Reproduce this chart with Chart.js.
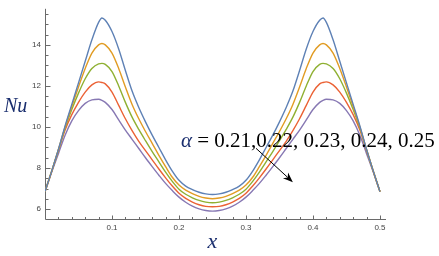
<!DOCTYPE html>
<html><head><meta charset="utf-8">
<script src="https://cdn.jsdelivr.net/npm/chart.js@4"></script>
<style>html,body{margin:0;padding:0;background:#fff;}#wrap{width:439px;height:256px;}</style>
</head><body><div id="wrap"><canvas id="c" width="439" height="256"></canvas></div>
<script>
const xValues = [0,0.01,0.02,0.03,0.04,0.05,0.06,0.07,0.08,0.085,0.09,0.1,0.11,0.12,0.13,0.14,0.15,0.16,0.17,0.18,0.19,0.2,0.21,0.22,0.23,0.24,0.25,0.26,0.27,0.28,0.29,0.3,0.31,0.32,0.33,0.34,0.35,0.36,0.37,0.38,0.39,0.4,0.41,0.415,0.42,0.43,0.44,0.45,0.46,0.47,0.48,0.49,0.5];
const nuAlpha021 = [6.85,7.85,8.9,10.05,11.1,12.15,13.2,14.25,15.1,15.31,15.2,14.65,13.8,12.75,11.75,10.95,10.25,9.6,9.0,8.4,7.85,7.4,7.12,6.95,6.82,6.74,6.71,
  6.74,6.82,6.95,7.12,7.4,7.85,8.4,9.0,9.6,10.25,10.95,11.75,12.75,13.8,14.65,15.2,15.31,15.1,14.25,13.2,12.15,11.1,10.05,8.9,7.85,6.85];
const nuAlpha022 = [6.85,7.85,8.9,10.0,11.0,11.95,12.85,13.6,14.0,14.07,14.0,13.6,12.85,11.95,11.1,10.4,9.78,9.2,8.62,8.07,7.55,7.17,6.92,6.75,6.62,6.54,6.5,
  6.54,6.62,6.75,6.92,7.17,7.55,8.07,8.62,9.2,9.78,10.4,11.1,11.95,12.85,13.6,14.0,14.07,14.0,13.6,12.85,11.95,11.0,10.0,8.9,7.85,6.85];
const nuAlpha023 = [6.85,7.85,8.88,9.95,10.85,11.65,12.35,12.85,13.08,13.1,13.05,12.7,12.0,11.2,10.48,9.88,9.33,8.8,8.3,7.8,7.35,6.97,6.72,6.55,6.42,6.34,6.31,
  6.34,6.42,6.55,6.72,6.97,7.35,7.8,8.3,8.8,9.33,9.88,10.48,11.2,12.0,12.7,13.05,13.1,13.08,12.85,12.35,11.65,10.85,9.95,8.88,7.85,6.85];
const nuAlpha024 = [6.85,7.83,8.85,9.85,10.6,11.2,11.7,12.05,12.2,12.17,12.1,11.7,11.05,10.4,9.82,9.3,8.85,8.4,7.95,7.52,7.12,6.77,6.52,6.34,6.21,6.13,6.11,
  6.13,6.21,6.34,6.52,6.77,7.12,7.52,7.95,8.4,8.85,9.3,9.82,10.4,11.05,11.7,12.1,12.17,12.2,12.05,11.7,11.2,10.6,9.85,8.85,7.83,6.85];
const nuAlpha025 = [6.85,7.8,8.7,9.6,10.3,10.8,11.15,11.32,11.35,11.3,11.2,10.85,10.35,9.85,9.4,8.95,8.5,8.07,7.65,7.25,6.9,6.58,6.33,6.14,6.01,5.93,5.9,
  5.93,6.01,6.14,6.33,6.58,6.9,7.25,7.65,8.07,8.5,8.95,9.4,9.85,10.35,10.85,11.2,11.3,11.35,11.32,11.15,10.8,10.3,9.6,8.7,7.8,6.85];
const seriesNames = ['α = 0.21','α = 0.22','α = 0.23','α = 0.24','α = 0.25'];
const seriesColors = ['#5E81B5','#E19C24','#8FB032','#EB6235','#8778B3'];
const yTickValues = [6,8,10,12,14];
const xTickValues = [0.1,0.2,0.3,0.4,0.5];
const annotationText = ' = 0.21,0.22, 0.23, 0.24, 0.25';

const allSeries = [nuAlpha021,nuAlpha022,nuAlpha023,nuAlpha024,nuAlpha025];
const datasets = allSeries.map((arr,i)=>({
  label: seriesNames[i],
  data: arr.map((v,j)=>({x:xValues[j], y:v})),
  borderColor: seriesColors[i],
  borderWidth: 1.4,
  pointRadius: 0,
  fill: false,
  cubicInterpolationMode: 'monotone'
}));

const Y_MIN = 5.515, Y_MAX = 15.76, X_MIN = 0, X_MAX = 0.509;

const decor = {
  id: 'decor',
  beforeDatasetsDraw(chart){
    const ctx = chart.ctx, xs = chart.scales.x, ys = chart.scales.y;
    const x0 = Math.round(xs.getPixelForValue(0)) + 0.5;
    const yb = Math.round(ys.getPixelForValue(Y_MIN)) + 0.5;
    const xr = xs.getPixelForValue(X_MAX);
    const yt = ys.getPixelForValue(Y_MAX);
    ctx.save();
    ctx.strokeStyle = '#6a6a6a';
    ctx.lineWidth = 1;
    ctx.beginPath();
    ctx.moveTo(x0, yb); ctx.lineTo(xr, yb);
    ctx.moveTo(x0, yb); ctx.lineTo(x0, yt);
    for (let i = 1; i <= 25; i++) {
      const px = Math.round(xs.getPixelForValue(i*0.02)) + 0.5;
      const len = (i % 5 === 0) ? 4 : 2.5;
      ctx.moveTo(px, yb); ctx.lineTo(px, yb - len);
    }
    for (let i = 12; i <= 31; i++) {
      const v = i*0.5;
      const py = Math.round(ys.getPixelForValue(v)) + 0.5;
      const len = (i % 4 === 0) ? 5 : 3;
      ctx.moveTo(x0, py); ctx.lineTo(x0 + len, py);
    }
    ctx.stroke();
    ctx.restore();
  },
  afterDatasetsDraw(chart){
    const ctx = chart.ctx, xs = chart.scales.x, ys = chart.scales.y, ca = chart.chartArea;
    ctx.save();
    ctx.fillStyle = '#1a2e6e';
    ctx.font = 'italic 20px "Liberation Serif"';
    ctx.textBaseline = 'alphabetic';
    ctx.textAlign = 'left';
    ctx.fillText('Nu', 4, 112);
    ctx.font = 'italic 22px "Liberation Serif"';
    ctx.textAlign = 'center';
    ctx.fillText('x', (ca.left + ca.right)/2 - 3, 248);
    const tx = xs.getPixelForValue(0.203), ty = ys.getPixelForValue(9.03);
    ctx.textAlign = 'left';
    ctx.font = 'italic 21px "Liberation Serif"';
    ctx.fillStyle = '#1a2e6e';
    ctx.fillText('α', tx, ty);
    const aw = ctx.measureText('α').width;
    ctx.font = '21px "Liberation Serif"';
    ctx.fillStyle = '#000';
    ctx.fillText(annotationText, tx + aw, ty);
    const ax1 = xs.getPixelForValue(0.315), ay1 = ys.getPixelForValue(8.96);
    const ax2 = xs.getPixelForValue(0.370), ay2 = ys.getPixelForValue(7.31);
    const ang = Math.atan2(ay2 - ay1, ax2 - ax1);
    const hl = 10, hw = 3.8;
    ctx.strokeStyle = '#000'; ctx.lineWidth = 1;
    ctx.beginPath();
    ctx.moveTo(ax1, ay1);
    ctx.lineTo(ax2 - hl*Math.cos(ang)*0.7, ay2 - hl*Math.sin(ang)*0.7);
    ctx.stroke();
    ctx.beginPath();
    ctx.moveTo(ax2, ay2);
    ctx.lineTo(ax2 - hl*Math.cos(ang) + hw*Math.sin(ang), ay2 - hl*Math.sin(ang) - hw*Math.cos(ang));
    ctx.lineTo(ax2 - hl*0.7*Math.cos(ang), ay2 - hl*0.7*Math.sin(ang));
    ctx.lineTo(ax2 - hl*Math.cos(ang) - hw*Math.sin(ang), ay2 - hl*Math.sin(ang) + hw*Math.cos(ang));
    ctx.closePath();
    ctx.fillStyle = '#000';
    ctx.fill();
    ctx.restore();
  }
};

new Chart(document.getElementById('c'), {
  type: 'line',
  data: { datasets },
  plugins: [decor],
  options: {
    responsive: false,
    devicePixelRatio: 1,
    animation: false,
    layout: { padding: { top: 8, right: 53, left: 0, bottom: 0 } },
    plugins: { legend: { display: false }, tooltip: { enabled: false } },
    scales: {
      x: {
        type: 'linear', min: X_MIN, max: X_MAX,
        grid: { display: false, drawTicks: false },
        border: { display: false },
        afterBuildTicks: s => { s.ticks = xTickValues.map(v => ({ value: v })); },
        afterFit: s => { s.height = 37; },
        ticks: { padding: 4, color: '#444', font: { family: 'Liberation Sans', size: 8 }, maxRotation: 0, autoSkip: false,
          callback: v => String(v) }
      },
      y: {
        type: 'linear', min: Y_MIN, max: Y_MAX,
        grid: { display: false, drawTicks: false },
        border: { display: false },
        afterBuildTicks: s => { s.ticks = yTickValues.map(v => ({ value: v })); },
        afterFit: s => { s.width = 45; },
        ticks: { padding: 4, color: '#444', font: { family: 'Liberation Sans', size: 8 }, autoSkip: false,
          callback: v => String(v) }
      }
    }
  }
});
</script>
</body></html>
